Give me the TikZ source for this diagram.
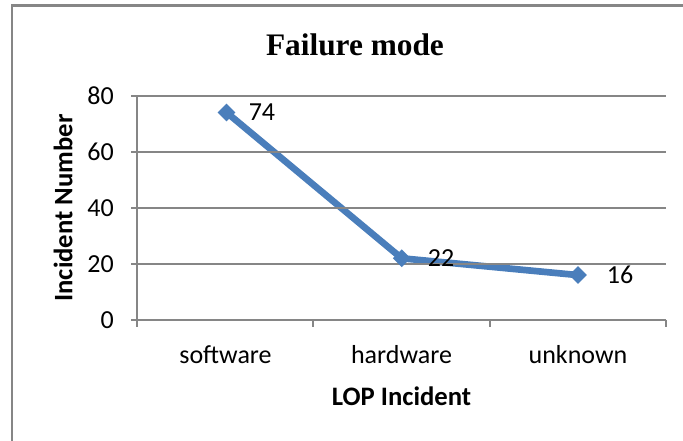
\documentclass[tikz,border=0pt]{standalone}
\usepackage{fontspec}
\setmainfont{Liberation Serif}
\setsansfont{Carlito}
\usetikzlibrary{shapes.geometric, positioning, backgrounds}
\definecolor{lineblue}{RGB}{74,126,187}
\definecolor{gridgray}{RGB}{134,134,134}

\begin{document}
\begin{tikzpicture}[x=0.75pt, y=-0.75pt,
    gridline/.style={draw=gridgray, line width=1.5pt},
    framebox/.style={draw=gridgray, line width=1.8pt},
    datapoint/.style={diamond, fill=lineblue, inner sep=0pt, minimum size=13.5pt},
    dataline/.style={draw=lineblue, line width=5pt, line join=round},
    datalabel/.style={anchor=west, inner sep=0pt, font=\sffamily\fontsize{19.5}{19.5}\selectfont},
    ticklabel/.style={inner sep=0pt, font=\sffamily\fontsize{19.5}{19.5}\selectfont},
    axistitle/.style={inner sep=0pt, font=\sffamily\bfseries\fontsize{20}{20}\selectfont},
    charttitle/.style={inner sep=0pt, font=\rmfamily\bfseries\fontsize{23.5}{23.5}\selectfont}
  ]

  \useasboundingbox (0,0) rectangle (683,441);

  % chart frame
  \draw[framebox] (12,441) -- (12,5.5) -- (683,5.5);

  \node[charttitle] (title) at (355,45) {Failure mode};

  % grid and axes
  \foreach \v in {0,20,40,60,80}{
    \draw[gridline] (131,{320-\v*2.805}) -- (666,{320-\v*2.805});
    \node[ticklabel, anchor=east] (ytick\v) at (114,{320-\v*2.805}) {\v};
  }
  \draw[gridline] (137,95.6) -- (137,320);
  \foreach \x in {137,313.3,489.7,666}
    \draw[gridline] (\x,320) -- (\x,327);

  % data points
  \node[datapoint] (software) at (226.5,112.4) {};
  \node[datapoint] (hardware) at (401.7,258.3) {};
  \node[datapoint] (unknown) at (578,275.1) {};

  \begin{scope}[on background layer]
    \draw[dataline] (software.center) -- (hardware.center) -- (unknown.center);
  \end{scope}

  \node[datalabel] (lab74) at ([xshift=16.5pt]software.center) {74};
  \node[datalabel] (lab22) at ([xshift=19.5pt]hardware.center) {22};
  \node[datalabel] (lab16) at ([xshift=21.5pt]unknown.center) {16};

  % category labels
  \node[ticklabel] (catsw) at (225.5,355) {software};
  \node[ticklabel] (cathw) at (401.5,355) {hardware};
  \node[ticklabel] (catuk) at (578,355) {unknown};

  % axis titles
  \node[axistitle] (xtitle) at (401.5,396) {LOP Incident};
  \node[axistitle, rotate=90] (ytitle) at (63,208) {Incident Number};

\end{tikzpicture}
\end{document}
